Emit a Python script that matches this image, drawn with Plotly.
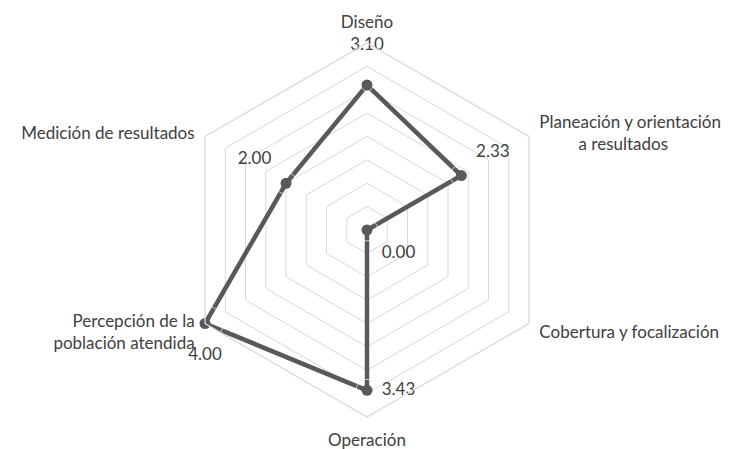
import plotly.graph_objects as go

NB = "\u00a0"
categories = ["Diseño",
              NB + "<br>" + NB + "<br>Planeación y orientación<br>" + NB * 9 + "a resultados",
              "Cobertura y focalización<br>" + NB,
              "Operación",
              "Percepción de la<br>población atendida<br>" + NB + "<br>" + NB,
              NB + "<br>Medición de resultados"]
values = [3.10, 2.33, 0.00, 3.43, 4.00, 2.00]
value_labels = ["3.10<br> ", "2.33", "0.00", "3.43", "4.00", "2.00"]
label_positions = ["top center", "top right", "bottom right", "middle right", "bottom center", "top left"]
label_gaps = [12, 22, 22, 22, 36, 22]

# plotly hides a point lying exactly on the centre of a hexagonal (linear) grid,
# so nudge zero by a negligible amount for drawing only
r_plot = [v if v > 0 else 1e-9 for v in values]

fig = go.Figure()
fig.add_trace(go.Scatterpolar(
    r=r_plot + [r_plot[0]],
    theta=categories + [categories[0]],
    mode="lines+markers",
    line=dict(color="#595959", width=4.5),
    marker=dict(color="#595959", size=11),
    cliponaxis=False,
    hoverinfo="skip",
    showlegend=False,
))
fig.add_trace(go.Scatterpolar(
    r=r_plot,
    theta=categories,
    mode="markers+text",
    marker=dict(size=label_gaps, color="rgba(0,0,0,0)"),
    text=value_labels,
    textposition=label_positions,
    textfont=dict(family="Lato, Noto Sans, sans-serif", size=17, color="#404040"),
    cliponaxis=False,
    showlegend=False,
    hoverinfo="skip",
))

fig.update_layout(
    width=731, height=449,
    margin=dict(l=0, r=13, t=35, b=40),
    paper_bgcolor="white",
    font=dict(family="Lato, Noto Sans, sans-serif", size=17, color="#404040"),
    polar=dict(
        bgcolor="white",
        gridshape="linear",
        radialaxis=dict(range=[0, 4], dtick=0.5,
                        showticklabels=False, ticks="",
                        showline=False, gridcolor="#d9d9d9", gridwidth=1.3),
        angularaxis=dict(direction="clockwise", rotation=90, showgrid=False,
                         showline=True, linecolor="#d9d9d9", linewidth=1.3,
                         ticks="outside", ticklen=8, tickcolor="rgba(0,0,0,0)",
                         tickfont=dict(size=17, color="#404040")),
    ),
)

fig.write_html("out.html")
